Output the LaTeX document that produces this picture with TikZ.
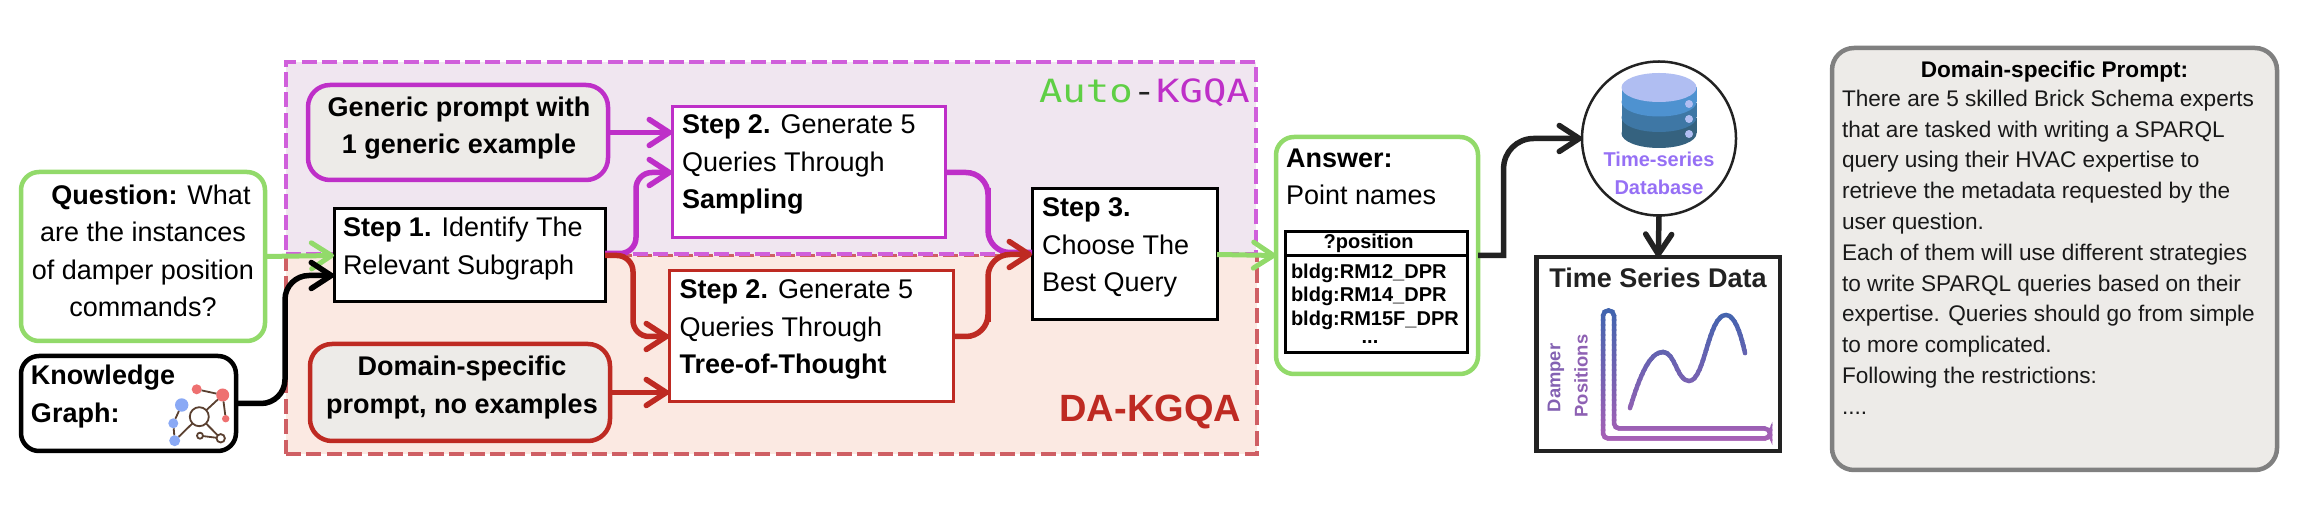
\documentclass[tikz,border=0pt]{standalone}
\usepackage{fontspec}
\setmainfont{Liberation Sans}
\newfontfamily\automono{DejaVu Sans Mono}
\usetikzlibrary{arrows.meta}
\definecolor{cgreen}{HTML}{92DA6A}
\definecolor{cmag}{HTML}{BE2FC8}
\definecolor{cred}{HTML}{BE2A22}
\definecolor{dmag}{HTML}{D05FDB}
\definecolor{dred}{HTML}{CF5F64}
\definecolor{fmag}{HTML}{F0E6F0}
\definecolor{fred}{HTML}{FBE9E2}
\definecolor{cgray}{HTML}{EDEBE8}
\definecolor{cdark}{HTML}{222222}
\definecolor{axT}{HTML}{3F64AE}
\definecolor{axB}{HTML}{A860B5}
\definecolor{cbrown}{HTML}{5A4030}
\definecolor{kblue}{HTML}{8AA9F5}
\definecolor{kred}{HTML}{EE7070}
\definecolor{dbtop}{HTML}{B0BEF2}
\definecolor{dbA}{HTML}{4E92D0}
\definecolor{dbB}{HTML}{3E77A5}
\definecolor{dbC}{HTML}{35627F}
\definecolor{dbtext}{HTML}{9670F5}
\tikzset{
  sz/.style 2 args={minimum width=#1*0.5pt,minimum height=#2*0.5pt},
  anyshape/.style={inner sep=0pt,outer sep=0pt},
  region/.style={anyshape,line width=2.25pt,dash pattern=on 7.5pt off 2.7pt},
  rbox/.style={anyshape,rounded corners=9pt,line width=2.25pt},
  sbox/.style={anyshape,line width=1.5pt,fill=white},
  body/.style={anyshape,font=\fontsize{13.5}{18.65}\selectfont},
  lft/.style={body,anchor=west,align=left},
  ctr/.style={body,align=center},
  tbl/.style={anyshape,font=\fontsize{10}{11.7}\selectfont\bfseries},
  conn/.style={line width=2.75pt,-{Straight Barb[length=10pt,width=13pt,round]}},
  plain/.style={line width=2.75pt},
  kn/.style={circle,anyshape},
  ke/.style={cbrown,line width=0.9pt},
}
\begin{document}
\begin{tikzpicture}[x=0.5pt,y=-0.5pt]
\useasboundingbox (0,0) rectangle (2306,512);
% regions
\node[region,draw=dred,fill=fred,sz={971}{199}] (da) at (771.5,354.5) {};
\node[region,draw=dmag,fill=fmag,sz={970}{192}] (auto) at (771,158) {};
% boxes
\node[rbox,draw=cgreen,fill=white,sz={244}{169}] (q) at (143,256.5) {};
\node[rbox,draw=black,fill=white,sz={215}{95}] (kg) at (128.5,403.5) {};
\node[rbox,rounded corners=11pt,draw=cmag,fill=cgray,sz={300}{95}] (gen) at (458,132.5) {};
\node[rbox,rounded corners=11pt,draw=cred,fill=cgray,sz={300}{97}] (dom) at (460,392.5) {};
\node[sbox,draw=black,sz={271}{93}] (s1) at (469.5,255.5) {};
\node[sbox,draw=cmag,sz={273}{131}] (samp) at (808.5,172.5) {};
\node[sbox,draw=cred,sz={284}{131}] (tree) at (811,336.5) {};
\node[sbox,draw=black,sz={185}{131}] (s3) at (1124.5,254.5) {};
\node[rbox,draw=cgreen,fill=white,sz={202}{237}] (ans) at (1377,255.5) {};
\node[sbox,draw=black,sz={182.5}{24}] (th) at (1376.25,244) {};
\node[sbox,draw=black,sz={182.5}{97}] (tb) at (1376.25,304.5) {};
\node[anyshape,circle,draw=cdark,fill=white,line width=1.25pt,minimum size=77pt] (circ) at (1659,138.5) {};
\node[anyshape,draw=cdark,fill=white,line width=2.25pt,sz={243.5}{194}] (ts) at (1658.25,354) {};
\node[rbox,rounded corners=11pt,draw=black!50,fill=cgray,sz={445}{422}] (dp) at (2054.5,259) {};
% connectors
\draw[conn,cgreen,line width=2.5pt] (q.east) -- (s1.west);
\draw[conn,black,rounded corners=12pt] (kg.east) -| (285,350) |- ([yshift=-10pt]s1.west);
\draw[conn,cmag] (gen.east) -- (samp.west |- gen.east);
\draw[conn,cmag,rounded corners=8pt] ([yshift=1pt]s1.east) -| (636,210) |- (samp.west);
\draw[conn,cred,rounded corners=8pt] (s1.east) -| (633,300) |- (tree.west);
\draw[conn,cred] (dom.east) -- (tree.west |- dom.east);
\draw[plain,cmag,rounded corners=11pt] (samp.east) -| (988,210) |- ([yshift=1pt]s3.west);
\draw[conn,cred,rounded corners=11pt] (tree.east) -| (988,300) |- (s3.west);
\draw[conn,cgreen,line width=2.5pt] (s3.east) -- (ans.west);
\draw[conn,cdark] (ans.east) -| (1503.6,200) [rounded corners=15pt] |- (circ.west);
\draw[conn,cdark] (circ.south) -- (ts.north);
% region titles
\node[anyshape,anchor=west,xscale=1.216,transform shape,font=\fontsize{16}{18}\automono] (autot) at (1039,93) {\textcolor[HTML]{5FCF45}{Auto}\textcolor{cdark}{-}\textcolor{cmag}{KGQA}};
\node[anyshape,anchor=east,text=cred,font=\fontsize{19}{22}\selectfont\bfseries] (dat) at (1241,412) {DA-KGQA};
% texts
\node[ctr] (qT) at (143,251) {\hspace*{8pt}\textbf{Question:} What\\are the instances\\of damper position\\commands?};
\node[lft] (kgT) at (31,396.5) {\textbf{Knowledge}\\\textbf{Graph:}};
\node[ctr] (genT) at (459,128) {\textbf{Generic prompt with}\\\textbf{1 generic example}};
\node[ctr] (domT) at (462,387.5) {\textbf{Domain-specific}\\\textbf{prompt, no examples}};
\node[lft] (s1T) at (343,248.5) {\textbf{Step 1.} Identify The\\Relevant Subgraph};
\node[lft] (sampT) at (682,164.5) {\textbf{Step 2.} Generate 5\\Queries Through\\\textbf{Sampling}};
\node[lft] (treeT) at (679.5,329.5) {\textbf{Step 2.} Generate 5\\Queries Through\\\textbf{Tree-of-Thought}};
\node[lft] (s3T) at (1042,247.5) {\textbf{Step 3.}\\Choose The\\Best Query};
\node[lft] (ansT) at (1286,176.5) {\textbf{Answer:}\\Point names};
\node[tbl] (thT) at (1368.6,243) {?position};
\node[tbl,anchor=west,align=left] (tbT) at (1291,296.5) {bldg:RM12\_DPR\\bldg:RM14\_DPR\\bldg:RM15F\_DPR};
\node[tbl] (tbD) at (1370,342) {...};
\node[anyshape,font=\fontsize{10}{14}\selectfont\bfseries,text=dbtext] (dbT1) at (1659,159) {Time-series};
\node[anyshape,font=\fontsize{10}{14}\selectfont\bfseries,text=dbtext] (dbT2) at (1659,187) {Database};
\node[anyshape,font=\fontsize{13.5}{16}\selectfont\bfseries,text=cdark] (tsT) at (1658,278) {Time Series Data};
\node[anyshape,rotate=90,font=\fontsize{9.2}{11}\selectfont\bfseries,text=axT!35!axB] (yl1) at (1556,378) {Damper};
\node[anyshape,rotate=90,font=\fontsize{9.2}{11}\selectfont\bfseries,text=axT!25!axB] (yl2) at (1581,376) {Positions};
\node[anyshape,font=\fontsize{11.3}{15.4}\selectfont\bfseries,text=black] (dpH) at (2054.5,72) {Domain-specific Prompt:};
\node[anyshape,anchor=north west,align=left,font=\fontsize{11.3}{15.4}\selectfont,text=black!90] (dpT) at (1842,90) {There are 5 skilled Brick Schema experts\\that are tasked with writing a SPARQL\\query using their HVAC expertise to\\retrieve the metadata requested by the\\user question.\\Each of them will use different strategies\\to write SPARQL queries based on their\\expertise. Queries should go from simple\\to more complicated.\\Following the restrictions:\\....};
% database icon
\fill[dbC] (1621.5,118) rectangle (1696.5,133.5);
\fill[dbC] (1659,133.5) ellipse[x radius=37.5,y radius=14.5];
\fill[dbB] (1621.5,103) rectangle (1696.5,117.5);
\fill[dbB] (1659,117.5) ellipse[x radius=37.5,y radius=14.5];
\fill[dbA] (1621.5,87.5) rectangle (1696.5,102);
\fill[dbA] (1659,102) ellipse[x radius=37.5,y radius=14.5];
\fill[dbtop] (1659,87.5) ellipse[x radius=37.5,y radius=14.5];
\foreach \yy in {104,119,134} \fill[dbtop] (1689,\yy) circle[radius=4];
% chart with vertical colour gradient
\foreach \i in {0,...,27}{
  \pgfmathsetmacro\ya{305+5*\i}
  \pgfmathsetmacro\yb{\ya+5.3}
  \pgfmathtruncatemacro\p{100*\i/27}
  \begin{scope}
    \clip (1590,\ya) rectangle (1790,\yb);
    \draw[axB!\p!axT,line width=2.25pt,rounded corners=2.6pt] (1603,310.5) -- (1614,310.5) -- (1614,428.5) -- (1770,428.5) -- (1770,438.5) -- (1603,438.5) -- cycle;
    \draw[axB!\p!axT,line width=2.25pt,line cap=round] (1630,408) .. controls (1640,375) and (1650,352) .. (1663,352) .. controls (1675,352) and (1677,381) .. (1689,381) .. controls (1705,381) and (1708,315) .. (1726,315) .. controls (1735,315) and (1741,335) .. (1745,353);
  \end{scope}
}
% knowledge graph icon
\node[kn,draw=cbrown,fill=white,line width=0.9pt,minimum size=9.5pt] (kc) at (199.3,416.7) {};
\node[kn,fill=kblue,minimum size=6.7pt] (b1) at (181.7,405) {};
\node[kn,fill=kblue,minimum size=5pt] (b2) at (173.3,423.3) {};
\node[kn,fill=kblue,minimum size=5.5pt] (b3) at (174.7,440.7) {};
\node[kn,fill=kred,minimum size=5pt] (r1) at (196.7,389.3) {};
\node[kn,fill=kred,minimum size=6.5pt] (r2) at (222.7,395) {};
\node[kn,fill=kred,minimum size=3.7pt] (r3) at (225.7,418.7) {};
\node[kn,draw=cbrown,fill=white,line width=0.9pt,minimum size=3pt] (k1) at (200,435.7) {};
\node[kn,draw=cbrown,fill=white,line width=0.9pt,minimum size=4.2pt] (k2) at (220.7,438.3) {};
\draw[ke] (b1) -- (b2);
\draw[ke] (b2) -- (b3);
\draw[ke] (b3) -- (kc);
\draw[ke] (kc) -- (r2);
\draw[ke] (r1) -- (r2);
\draw[ke] (r2) -- (r3);
\draw[ke] (kc) -- (k2);
\draw[ke] (k1) -- (k2);
\end{tikzpicture}
\end{document}
